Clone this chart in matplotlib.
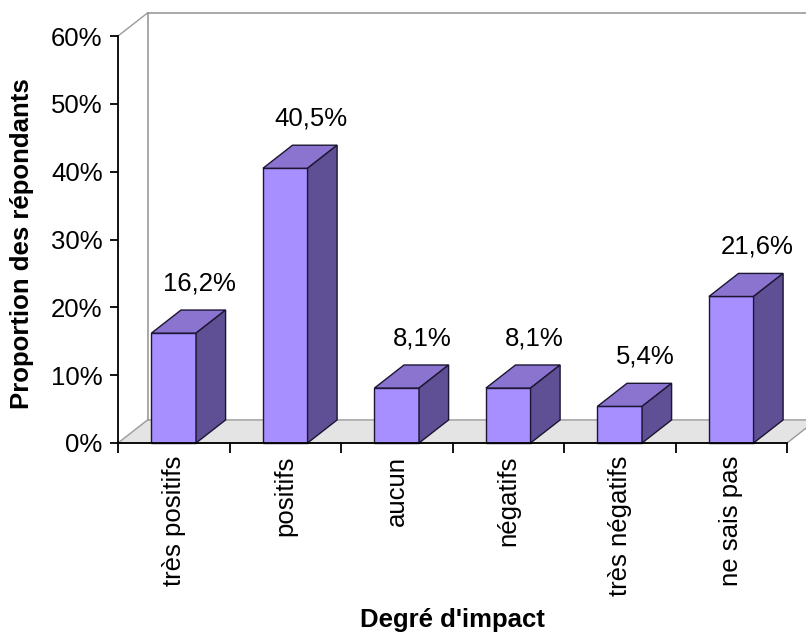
"""Degré d'impact - bar chart with a fake 3D look."""
import matplotlib
matplotlib.use("Agg")
import matplotlib.pyplot as plt
from matplotlib.patches import Polygon, Rectangle

categories = ["très positifs", "positifs", "aucun", "négatifs",
              "très négatifs", "ne sais pas"]
values = [16.2, 40.5, 8.1, 8.1, 5.4, 21.6]
labels = ["16,2%", "40,5%", "8,1%", "8,1%", "5,4%", "21,6%"]
yticks = [0, 10, 20, 30, 40, 50, 60]

FRONT = "#a88fff"
TOP = "#8a74cf"
SIDE = "#5f4f95"
EDGE = "#1c1633"
GRID_GRAY = "#9a9a9a"
FLOOR = "#e4e4e4"

plt.rcParams["font.family"] = ["Liberation Sans", "DejaVu Sans"]

fig = plt.figure(figsize=(8.06, 6.35), dpi=100)
ax = fig.add_axes([118 / 806, (635 - 443) / 635, (787 - 118) / 806, (443 - 36) / 635])
n = len(categories)
ax.set_xlim(0, n)
ax.set_ylim(0, 60)

# depth of the 3D box in data units
dx = 0.265
dy = 3.4

# floor
ax.add_patch(Polygon([(0, 0), (n, 0), (n + dx, dy), (dx, dy)], closed=True,
                     facecolor=FLOOR, edgecolor=GRID_GRAY, lw=1,
                     clip_on=False, zorder=1))
# back wall edges
ax.plot([dx, dx], [dy, 60 + dy], color=GRID_GRAY, lw=1.2, clip_on=False, zorder=1)
ax.plot([dx, n + dx + 1], [60 + dy, 60 + dy], color=GRID_GRAY, lw=1.2,
        clip_on=False, zorder=1)
ax.plot([0, dx], [60, 60 + dy], color=GRID_GRAY, lw=1, clip_on=False, zorder=1)

w = 0.40
for i, (v, lab) in enumerate(zip(values, labels)):
    c = i + 0.5
    x0, x1 = c - w / 2, c + w / 2
    ax.add_patch(Rectangle((x0, 0), w, v, facecolor=FRONT, edgecolor=EDGE,
                           lw=1, zorder=3, clip_on=False))
    ax.add_patch(Polygon([(x0, v), (x1, v), (x1 + dx, v + dy), (x0 + dx, v + dy)],
                         closed=True, facecolor=TOP, edgecolor=EDGE, lw=1,
                         zorder=3, clip_on=False))
    ax.add_patch(Polygon([(x1, 0), (x1 + dx, dy), (x1 + dx, v + dy), (x1, v)],
                         closed=True, facecolor=SIDE, edgecolor=EDGE, lw=1,
                         zorder=3, clip_on=False))
    ax.text(c + 0.23, v + 7.3, lab, ha="center", va="center", fontsize=18.5)

for s in ["top", "right"]:
    ax.spines[s].set_visible(False)
ax.spines["left"].set_linewidth(1.3)
ax.spines["bottom"].set_linewidth(1.3)
ax.spines["left"].set_zorder(4)
ax.spines["bottom"].set_zorder(4)
ax.patch.set_visible(False)

ax.set_yticks(yticks)
ax.set_yticklabels([f"{t}%" for t in yticks], fontsize=18.5)
ax.tick_params(axis="y", direction="out", length=6, width=1.3, pad=5)

ax.set_xticks([i + 0.5 for i in range(n)])
ax.set_xticklabels(categories, rotation=90, fontsize=18.5)
ax.set_xticks(range(n + 1), minor=True)
ax.tick_params(axis="x", which="major", length=0, pad=9)
ax.tick_params(axis="x", which="minor", direction="out", length=7, width=1.3)

fig.text(22 / 806, 1 - 244 / 635, "Proportion des répondants", rotation=90,
         ha="center", va="center", fontsize=18.5, fontweight="bold")
fig.text(452 / 806, 1 - 620 / 635, "Degré d'impact", ha="center", va="center",
         fontsize=18.5, fontweight="bold")

fig.savefig("out.png", dpi=100)
